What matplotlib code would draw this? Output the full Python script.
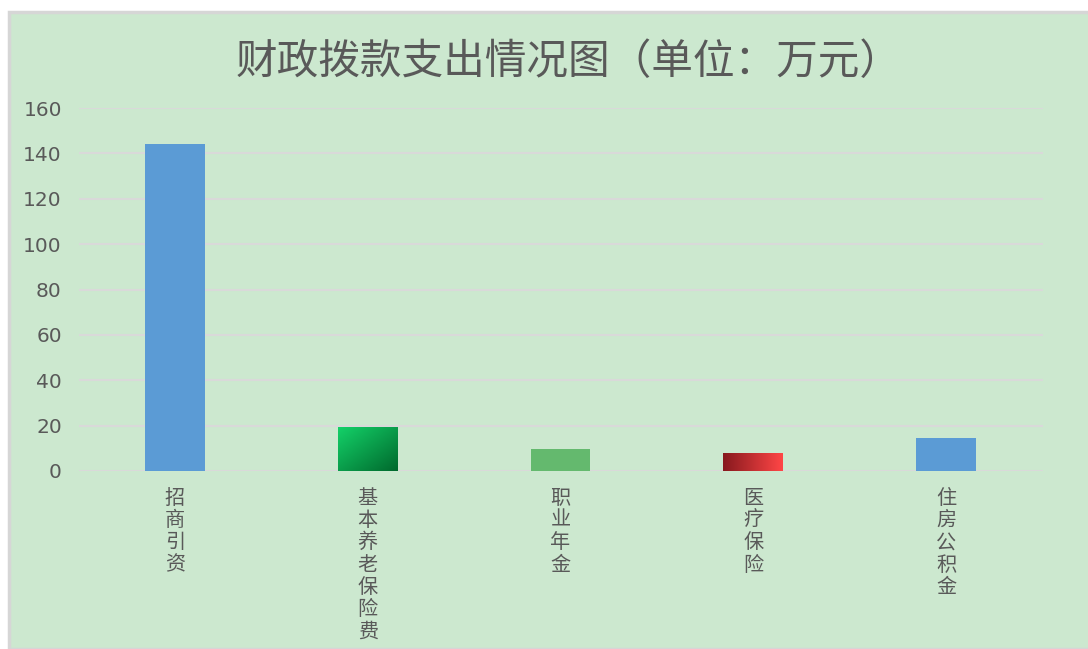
import matplotlib.pyplot as plt
import numpy as np
from matplotlib.patches import Rectangle

plt.rcParams['font.family'] = ['Noto Sans CJK SC', 'DejaVu Sans']

categories = ["招商引资", "基本养老保险费", "职业年金", "医疗保险", "住房公积金"]
values = [144, 19.5, 9.8, 8, 14.4]
title = "财政拨款支出情况图（单位：万元）"

BG = "#CCE8CF"
TXT = "#595959"


def gradient_fill(ax, bar, c0, c1, diagonal=True):
    # paint a gradient image clipped to the bar
    x0, y0 = bar.get_x(), bar.get_y()
    w, h = bar.get_width(), bar.get_height()
    n = 64
    xs = np.linspace(0, 1, n)
    if diagonal:
        t = (xs[None, :] + xs[::-1][:, None]) / 2
    else:
        t = np.tile(xs, (n, 1))
    c0 = np.array(c0) / 255
    c1 = np.array(c1) / 255
    img = c0 + (c1 - c0) * t[..., None]
    im = ax.imshow(img, extent=(x0, x0 + w, y0, y0 + h), origin="lower",
                   aspect="auto", zorder=3, interpolation="bilinear")
    im.set_clip_path(bar)
    bar.set_facecolor("none")


fig = plt.figure(figsize=(10.88, 6.49), dpi=100)
fig.patch.set_facecolor("white")
fig.patches.append(Rectangle((9 / 1088, 0), 1, 1 - 12 / 649, transform=fig.transFigure,
                             facecolor=BG, edgecolor="#D6D6D6", linewidth=2.5, zorder=-10))

ax = fig.add_axes([78.5 / 1088, 1 - 471 / 649, 964 / 1088, 363 / 649])
ax.set_facecolor("none")

x = np.arange(len(categories))
colors = ["#5B9BD5", "#12C862", "#64B96E", "#E03B3B", "#5B9BD5"]
bars = ax.bar(x, values, width=0.31, color=colors, zorder=3)
ax.set_xlim(-0.5, len(categories) - 0.5)

# gradient bars
gradient_fill(ax, bars[1], (20, 210, 105), (0, 105, 45), diagonal=True)
gradient_fill(ax, bars[3], (135, 25, 30), (255, 70, 70), diagonal=False)

ax.set_ylim(0, 160)
ax.set_yticks(range(0, 161, 20))
ax.yaxis.grid(True, color="#D9D9D9", linewidth=1.5, zorder=0)
ax.set_axisbelow(True)
for s in ax.spines.values():
    s.set_visible(False)
ax.tick_params(axis="both", length=0, colors=TXT)
ax.tick_params(axis="y", pad=12)
for lbl in ax.get_yticklabels():
    lbl.set_fontfamily("DejaVu Sans")
    lbl.set_fontsize(14.5)

ax.set_xticks(x)
ax.set_xticklabels(["\n".join(c) for c in categories], fontsize=14.5, color=TXT,
                   va="top", linespacing=1.08)
ax.tick_params(axis="x", pad=12)

fig.text(569 / 1088, 1 - 63 / 649, title, ha="center", va="center",
         fontsize=30, color=TXT, fontweight="medium")

plt.savefig("out.png", dpi=100, facecolor=fig.get_facecolor())
